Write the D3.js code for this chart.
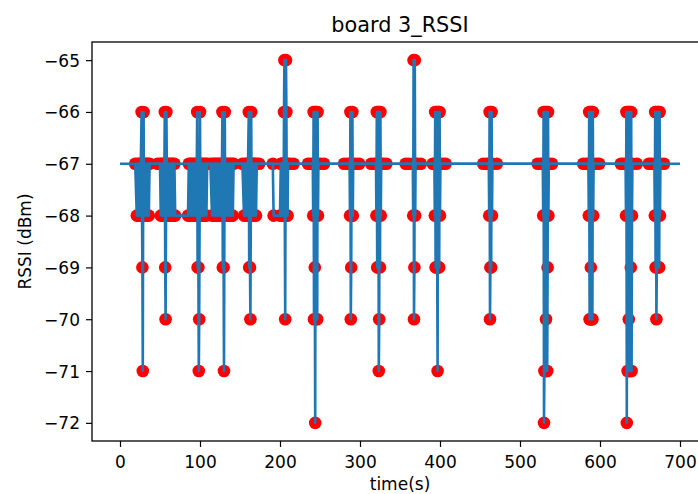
<!DOCTYPE html>
<html>
<head>
<meta charset="utf-8">
<script src="https://cdn.jsdelivr.net/npm/d3@7/dist/d3.min.js"></script>
<style>
  html, body { margin: 0; padding: 0; background: #fff; }
  svg { display: block; font-family: "DejaVu Sans", sans-serif; }
</style>
</head>
<body>
<svg id="chart" width="698" height="494"></svg>
<script>
// Sample times (s) and RSSI readings (dBm) for board 3, one row per burst.
const time = [
  19, 21, 22, 23, 24, 25, 26, 27, 27.5, 28, 28.5, 29, 29.5, 30, 31, 32, 33, 34, 35, 36, 37,
  47, 50, 51, 52, 53, 54, 55, 56, 56.5, 57, 57.5, 58, 58.5, 59, 60, 61, 62, 63, 64, 65, 66, 67, 68, 69, 85,
  86, 87, 88, 89, 90, 91, 92, 93, 94, 95, 96, 96.5, 97, 97.5, 98, 98.5, 99, 99.5, 100, 100.5, 101, 102, 103, 104, 105, 106, 107, 108, 109,
  113, 115, 116, 117, 118, 119, 120, 121, 122, 123, 124, 125, 126, 127, 128, 128.5, 129, 129.5, 130, 130.5, 131, 131.5, 132, 133, 134, 135, 136, 137, 138, 139, 140, 141, 142,
  153, 155, 156, 157, 158, 159, 160, 161, 161.5, 162, 162.5, 163, 163.5, 164, 164.5, 165, 166, 167, 168, 169, 170, 171, 174, 191, 192,
  200, 201, 201.5, 202, 202.5, 203, 203.5, 204, 204.5, 205, 205.5, 206, 206.5, 207, 207.5, 208, 208.5, 209, 209.5, 210, 213, 217,
  235, 238, 241, 241.5, 242, 242.5, 243, 243.5, 244, 244.5, 245, 245.5, 246, 246.5, 247, 247.5, 248, 251, 255,
  280, 284, 287, 287.5, 288, 288.5, 289, 289.5, 290, 290.5, 291, 291.5, 295, 299,
  314, 318, 320, 320.5, 321, 321.5, 322, 322.5, 323, 323.5, 324, 324.5, 325, 325.5, 326, 326.5, 329, 333,
  357, 361, 366, 366.5, 367, 367.5, 368, 368.5, 369, 369.5, 372, 376,
  391, 393, 393.5, 394, 394.5, 395, 395.5, 396, 396.5, 397, 397.5, 398, 398.5, 399, 399.5, 400, 400.5, 404, 407,
  454, 458, 461, 461.5, 462, 462.5, 463, 463.5, 464, 464.5, 465, 465.5, 471,
  522, 526, 528.5, 529, 529.5, 530, 530.5, 531, 531.5, 532, 532.5, 533, 533.5, 534, 534.5, 535, 535.5, 536, 540,
  579, 583, 585.5, 586, 586.5, 587, 587.5, 588, 588.5, 589, 589.5, 590, 590.5, 591, 591.5, 592, 596, 599,
  626, 629, 632, 632.5, 633, 633.5, 634, 634.5, 635, 635.5, 636, 636.5, 637, 637.5, 638, 638.5, 639, 639.5, 640, 640.5, 646,
  661, 664, 668, 668.5, 669, 669.5, 670, 670.5, 671, 671.5, 672, 672.5, 673, 673.5, 674, 674.5, 675, 675.5, 680
];
const rssi = [
  -67, -68, -67, -68, -67, -68, -67, -66, -68, -69, -71, -67, -66, -68, -67, -68, -67, -68, -67, -68, -67,
  -67, -67, -68, -67, -68, -67, -68, -66, -69, -70, -68, -66, -67, -68, -67, -68, -67, -68, -67, -68, -67, -68, -67, -68, -68,
  -67, -68, -67, -68, -67, -68, -67, -68, -67, -68, -67, -66, -69, -67, -69, -71, -70, -68, -66, -68, -67, -68, -67, -68, -67, -68, -67, -68, -67,
  -67, -68, -67, -68, -67, -68, -67, -68, -67, -68, -67, -68, -67, -68, -66, -69, -67, -69, -71, -68, -66, -68, -67, -68, -67, -68, -67, -68, -67, -68, -67, -68, -67,
  -67, -68, -67, -68, -67, -68, -67, -66, -69, -67, -69, -70, -68, -66, -68, -67, -68, -67, -68, -67, -68, -67, -67, -67, -68,
  -68, -67, -68, -67, -68, -67, -68, -67, -68, -66, -65, -68, -70, -67, -65, -66, -68, -67, -68, -67, -67, -67,
  -67, -67, -67, -68, -66, -70, -66, -69, -72, -66, -70, -66, -68, -70, -66, -68, -67, -67, -67,
  -67, -67, -67, -68, -66, -70, -69, -67, -68, -66, -68, -67, -67, -67,
  -67, -67, -67, -68, -66, -69, -66, -69, -66, -71, -70, -66, -69, -66, -68, -67, -67, -67,
  -67, -67, -67, -68, -65, -70, -69, -65, -68, -67, -67, -67,
  -67, -67, -68, -66, -69, -66, -69, -66, -69, -71, -66, -69, -66, -69, -66, -68, -67, -67, -67,
  -67, -67, -67, -68, -66, -70, -69, -66, -69, -66, -68, -67, -67,
  -67, -67, -67, -68, -66, -72, -71, -66, -71, -66, -70, -71, -66, -71, -69, -66, -68, -67, -67,
  -67, -67, -67, -68, -66, -70, -66, -70, -69, -66, -70, -66, -70, -66, -68, -67, -67, -67,
  -67, -67, -67, -68, -66, -72, -66, -71, -66, -71, -70, -66, -71, -66, -71, -69, -66, -71, -68, -67, -67,
  -67, -67, -67, -68, -66, -69, -66, -70, -69, -66, -69, -66, -69, -66, -69, -66, -68, -67, -67
];

// Reference level drawn across the full run.
const refLevel = -67;
const refTimes = [0, 700];

// Axis ticks.
const xTicks = [0, 100, 200, 300, 400, 500, 600, 700];
const yTicks = [-72, -71, -70, -69, -68, -67, -66, -65];

const chartTitle = "board 3_RSSI";
const xLabel = "time(s)";
const yLabel = "RSSI (dBm)";

const W = 698, H = 494;
const plot = { left: 92, top: 42, right: 708, bottom: 441 };

const points = time.map((t, i) => ({ t, v: rssi[i] }));
const refPoints = refTimes.map(t => ({ t, v: refLevel }));

// Autoscale with 5% margins on each side.
const allT = time.concat(refTimes);
const allV = rssi.concat([refLevel]);
const [tMin, tMax] = d3.extent(allT);
const [vMin, vMax] = d3.extent(allV);
const tPad = (tMax - tMin) * 0.05, vPad = (vMax - vMin) * 0.05;

const x = d3.scaleLinear().domain([tMin - tPad, tMax + tPad]).range([plot.left, plot.right]);
const y = d3.scaleLinear().domain([vMin - vPad, vMax + vPad]).range([plot.bottom, plot.top]);

const svg = d3.select("#chart");
svg.append("rect").attr("width", W).attr("height", H).attr("fill", "#fff");

const blue = "#1f77b4";
const fmtMinus = d => String(d).replace("-", "\u2212");

// Scatter of readings (drawn beneath the line).
svg.append("g")
  .selectAll("circle")
  .data(points)
  .join("circle")
  .attr("cx", d => x(d.t))
  .attr("cy", d => y(d.v))
  .attr("r", 6.3)
  .attr("fill", "red");

const line = d3.line().x(d => x(d.t)).y(d => y(d.v));

svg.append("path")
  .datum(refPoints)
  .attr("d", line)
  .attr("fill", "none")
  .attr("stroke", blue)
  .attr("stroke-width", 2.6);

svg.append("path")
  .datum(points)
  .attr("d", line)
  .attr("fill", "none")
  .attr("stroke", blue)
  .attr("stroke-width", 2.6)
  .attr("stroke-linejoin", "round");

// Axes frame.
svg.append("rect")
  .attr("x", plot.left).attr("y", plot.top)
  .attr("width", plot.right - plot.left).attr("height", plot.bottom - plot.top)
  .attr("fill", "none").attr("stroke", "#000").attr("stroke-width", 1.3);

const xAxis = svg.append("g")
  .attr("transform", `translate(0,${plot.bottom})`)
  .call(d3.axisBottom(x).tickValues(xTicks).tickSize(6).tickPadding(6).tickFormat(d3.format("d")));
const yAxis = svg.append("g")
  .attr("transform", `translate(${plot.left},0)`)
  .call(d3.axisLeft(y).tickValues(yTicks).tickSize(6).tickPadding(6).tickFormat(fmtMinus));

[xAxis, yAxis].forEach(g => {
  g.select(".domain").remove();
  g.selectAll(".tick line").attr("stroke", "#000").attr("stroke-width", 1.2);
  g.selectAll(".tick text")
    .attr("fill", "#000")
    .style("font-family", "'DejaVu Sans', sans-serif")
    .style("font-size", "17px");
});
xAxis.selectAll(".tick text").attr("dy", null).attr("y", 27);
yAxis.selectAll(".tick text").attr("dy", null).attr("y", 6);

svg.append("text")
  .attr("x", (plot.left + plot.right) / 2).attr("y", 32)
  .attr("text-anchor", "middle")
  .style("font-size", "20.8px")
  .text(chartTitle);

svg.append("text")
  .attr("x", (plot.left + plot.right) / 2).attr("y", 490)
  .attr("text-anchor", "middle")
  .style("font-size", "17px")
  .text(xLabel);

svg.append("text")
  .attr("transform", `translate(31,${(plot.top + plot.bottom) / 2}) rotate(-90)`)
  .attr("text-anchor", "middle")
  .style("font-size", "17px")
  .text(yLabel);
</script>
</body>
</html>
